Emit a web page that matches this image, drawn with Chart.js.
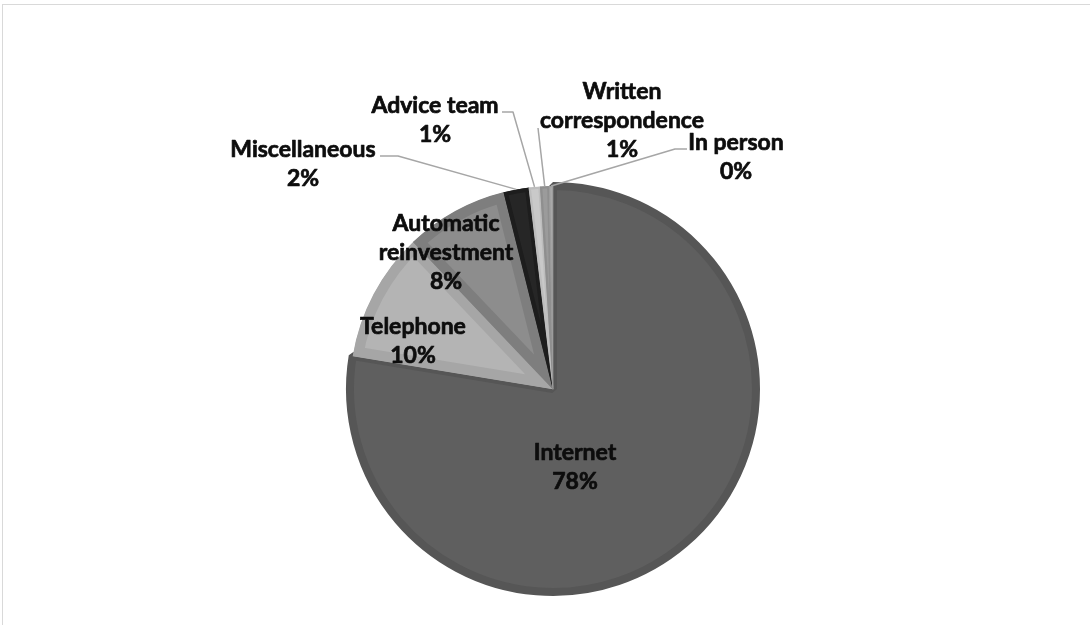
<!DOCTYPE html>
<html>
<head>
<meta charset="utf-8">
<script src="https://cdn.jsdelivr.net/npm/chart.js@4"></script>
<style>
    html, body { margin: 0; padding: 0; background: #fff; overflow: hidden; }
    #frame { position: absolute; left: 2px; top: 4px; width: 1200px; height: 800px; border: 1px solid #d9d9d9; }
    #wrap { position: absolute; left: 0; top: 0; width: 1090px; height: 625px; }
</style>
</head>
<body>
<div id="frame"></div>
<div id="wrap"><canvas id="chartviewport" width="1090" height="625"></canvas></div>
<script>
// chart data
const categories = [ 'Internet', 'Telephone', 'Automatic reinvestment', 'Miscellaneous', 'Advice team', 'Written correspondence', 'In person' ];
const labelLines = [ ['Internet'], ['Telephone'], ['Automatic', 'reinvestment'], ['Miscellaneous'], ['Advice team'], ['Written', 'correspondence'], ['In person'] ];
const shares = [ 77.6, 10.3, 8.2, 2.0, 0.9, 0.7, 0.3 ];

// styles
const fills   = [ '#5f5f5f', '#b4b4b4', '#8d8d8d', '#262626', '#c9c9c9', '#9b9b9b', '#a9a9a9' ];
const borders = [ '#565656', '#a6a6a6', '#7e7e7e', '#1d1d1d', '#bdbdbd', '#8f8f8f', '#9c9c9c' ];
// label block centre, offset from pie centre
const labelOffsets = [ [22, 78], [-140, -48], [-107, -136], [-250, -225], [-118, -269], [69, -268], [183, -232] ];
// leader lines: start point and elbow, offset from pie centre (null = no line)
const leaders = [ null, null, null,
    [[-173, -233], [-155, -233]],
    [[-51, -277], [-40, -277]],
    [[-15, -261], null],
    [[134, -240], [122, -240]] ];

const total = shares.reduce(function (a, b) { return a + b; }, 0);

const labelPlugin = {
    id: 'sliceLabels',
    afterDatasetsDraw(chart) {
        const ctx = chart.ctx;
        const arcs = chart.getDatasetMeta(0).data;
        ctx.save();
        for (var i = 0; i < arcs.length; i++) {
            const a = arcs[i];
            const cx = a.x, cy = a.y;
            // leader line
            if (leaders[i]) {
                const mid = (a.startAngle + a.endAngle) / 2;
                const ex = cx + Math.cos(mid) * a.outerRadius;
                const ey = cy + Math.sin(mid) * a.outerRadius;
                ctx.strokeStyle = '#a6a6a6';
                ctx.lineWidth = 1.5;
                ctx.beginPath();
                ctx.moveTo(cx + leaders[i][0][0], cy + leaders[i][0][1]);
                if (leaders[i][1]) ctx.lineTo(cx + leaders[i][1][0], cy + leaders[i][1][1]);
                ctx.lineTo(ex, ey);
                ctx.stroke();
            }
            // text, slightly stroked to get closer to the heavy bold of the original
            const lines = labelLines[i].concat([ Math.round(shares[i] / total * 100) + '%' ]);
            const lh = 29;
            const bx = cx + labelOffsets[i][0];
            const by = cy + labelOffsets[i][1] - (lines.length - 1) * lh / 2;
            ctx.fillStyle = '#0d0d0d';
            ctx.strokeStyle = '#0d0d0d';
            ctx.lineWidth = 0.7;
            ctx.lineJoin = 'round';
            ctx.font = 'bold 23px Lato';
            ctx.textAlign = 'center';
            ctx.textBaseline = 'middle';
            for (var j = 0; j < lines.length; j++) {
                ctx.fillText(lines[j], bx, by + j * lh);
                ctx.strokeText(lines[j], bx, by + j * lh);
            }
        }
        ctx.restore();
    }
};

const config = {
    type: 'pie',
    data: {
        labels: categories,
        datasets: [{
            data: shares,
            backgroundColor: fills,
            borderColor: borders,
            borderWidth: [ 8, 10, 10, 4, 2, 2, 1 ],
            borderAlign: [ 'center', 'inner', 'inner', 'inner', 'inner', 'inner', 'inner' ],
            clip: false
        }]
    },
    options: {
        responsive: false,
        animation: false,
        layout: { padding: { top: 182, bottom: 29, left: 16, right: 0 } },
        plugins: {
            legend: { display: false },
            tooltip: { enabled: false }
        }
    },
    plugins: [ labelPlugin ]
};

new Chart(document.getElementById('chartviewport'), config);
</script>
</body>
</html>
